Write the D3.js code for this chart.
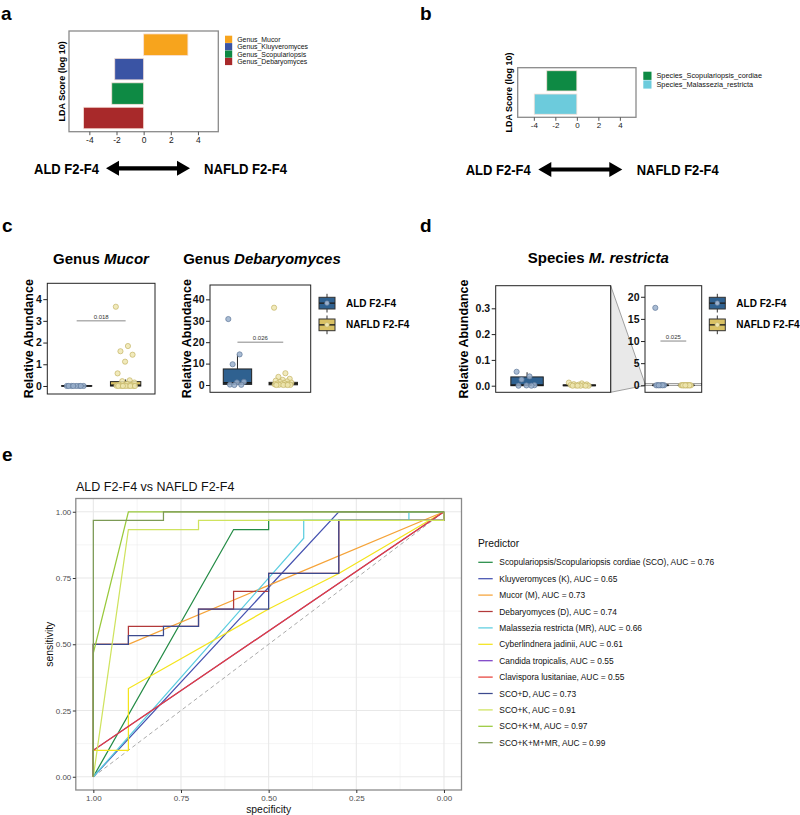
<!DOCTYPE html>
<html><head><meta charset="utf-8">
<script src="https://cdn.jsdelivr.net/npm/d3@7"></script>
<style>
body{margin:0;background:#fff}
svg{display:block}
text{font-family:"Liberation Sans",Arial,Helvetica,sans-serif}
</style>
</head><body>
<svg id="fig" width="800" height="815"></svg>
<script>
// ---------------- DATA ----------------
// Panel a: LDA scores (genus)
const genusNames = ["Genus_Mucor","Genus_Kluyveromyces","Genus_Scopulariopsis","Genus_Debaryomyces"];
const genusLDA = [3.26, -2.13, -2.35, -4.43];
// Panel b: LDA scores (species)
const speciesNames = ["Species_Scopulariopsis_cordiae","Species_Malassezia_restricta"];
const speciesLDA = [-2.8, -3.96];
const ldaTicks = [-4,-2,0,2,4];
const ldaDomain = [-5.5, 5.5];

// Panels c/d: relative abundance (points) and box stats [lowWhisker, q1, median, q3, highWhisker]
const groups = ["ALD F2-F4","NAFLD F2-F4"];
const mucorALD = [0,0,0,0,0,0,0,0];
const mucorNAFLD = [3.65,1.84,1.6,1.44,1.12,0.58,0.26,0.22,0.16,0.1,0.06,0.04,0.02,0.01,0,0,0,0,0,0,0,0];
const mucorStatsALD = [0,0,0,0.005,0.01];
const mucorStatsNAFLD = [0,0,0.03,0.2,0.3];
const mucorTicks = [0,1,2,3,4];
const mucorP = "0.018";

const debALD = [30.8,14.3,9.7,1.5,1.2,0.2,0.1,0];
const debNAFLD = [36.1,5.5,3.8,2.9,2.4,2.0,1.7,1.4,1.1,0.9,0.7,0.5,0.4,0.3,0.2,0.1,0.05,0,0,0];
const debStatsALD = [0,0.3,1.0,7.5,14.3];
const debStatsNAFLD = [0,0.1,0.6,1.25,2.5];
const debTicks = [0,10,20,30,40];
const debP = "0.026";

const mresALD = [17.5,0.054,0.036,0.024,0.002,0.001,0,0];
const mresNAFLD = [0.012,0.009,0.006,0.005,0.004,0.003,0.002,0.001,0,0,0,0,0];
const mresStatsALD = [0,0,0.002,0.034,0.052];
const mresStatsNAFLD = [0,0,0.001,0.003,0.006];
const mresZoomTicks = [0,0.1,0.2,0.3];
const mresFullTicks = [0,5,10,15,20];
const mresP = "0.025";

// Panel e: ROC curves, [specificity, sensitivity]
const rocSCO   = [[1,0],[0.6,0.933],[0.5,0.933],[0.5,0.967],[0,0.967],[0,1]];
const rocK     = [[1,0],[0.3,1],[0,1]];
const rocM     = [[1,0],[1,0.5],[0.9,0.5],[0,1]];
const rocD     = [[1,0],[1,0.5],[0.9,0.5],[0.9,0.567],[0.7,0.567],[0.7,0.633],[0.6,0.633],[0.6,0.7],[0.5,0.7],[0.5,0.767],[0.3,0.767],[0.3,0.967],[0,0.967],[0,1]];
const rocMR    = [[1,0],[0.4,0.9],[0.4,0.967],[0.1,0.967],[0.1,1],[0,1]];
const rocCJ    = [[1,0],[1,0.1],[0.9,0.1],[0.9,0.333],[0.5,0.633],[0.3,0.767],[0,1]];
const rocCT    = [[1,0],[1,0.1],[0,1]];
const rocCL    = [[1,0],[1,0.1],[0,1]];
const rocSCOD  = [[1,0],[1,0.5],[0.9,0.5],[0.9,0.533],[0.8,0.533],[0.8,0.567],[0.7,0.567],[0.7,0.633],[0.5,0.633],[0.5,0.767],[0.3,0.767],[0.3,0.967],[0,0.967],[0,1]];
const rocSCOK  = [[1,0],[0.9,0.933],[0.7,0.933],[0.7,0.967],[0,0.967],[0,1]];
const rocSCOKM = [[1,0],[1,0.467],[0.9,1],[0,1]];
const rocSCOKMMR = [[1,0],[1,0.967],[0.8,0.967],[0.8,1],[0,1]];
const rocLabels = [
  "Scopulariopsis/Scopulariopsis cordiae (SCO), AUC = 0.76",
  "Kluyveromyces (K), AUC = 0.65",
  "Mucor (M), AUC = 0.73",
  "Debaryomyces (D), AUC = 0.74",
  "Malassezia restricta (MR), AUC = 0.66",
  "Cyberlindnera jadinii, AUC = 0.61",
  "Candida tropicalis, AUC = 0.55",
  "Clavispora lusitaniae, AUC = 0.55",
  "SCO+D, AUC = 0.73",
  "SCO+K, AUC = 0.91",
  "SCO+K+M, AUC = 0.97",
  "SCO+K+M+MR, AUC = 0.99"
];
const rocTicks = [1,0.75,0.5,0.25,0];
const rocMinor = [0.125,0.375,0.625,0.875];

// ---------------- STYLE ----------------
const genusColors = ["#f7a41d","#3a54a4","#0e8a44","#a8292a"];
const speciesColors = ["#0e8a44","#6ccbdc"];
const rocSeries = [rocSCO,rocK,rocM,rocD,rocMR,rocCJ,rocCT,rocCL,rocSCOD,rocSCOK,rocSCOKM,rocSCOKMMR];
const rocColors = ["#238b45","#4552b0","#f5a338","#b2393a","#5ccde0","#f4e41c","#7b3fc6","#e6403a","#3c4a8e","#cfe35e","#99c93b","#7c9a55"];
const ALDfill="#2f6190", NAFfill="#d9c164";
const ALDpt="#9ab0cc", ALDptS="#60789a", NAFpt="#efe6b0", NAFptS="#c4b466";

const svg = d3.select("#fig");

// ---------------- helpers ----------------
function panelLabel(t,x,y){
  svg.append("text").attr("x",x).attr("y",y).text(t)
    .attr("font-size",19).attr("font-weight","bold");
}
function dblArrow(x1,x2,y){
  const hl=13, hh=7.5, st=2.1;
  const p=d3.path();
  p.moveTo(x1,y); p.lineTo(x1+hl,y-hh); p.lineTo(x1+hl,y-st); p.lineTo(x2-hl,y-st);
  p.lineTo(x2-hl,y-hh); p.lineTo(x2,y); p.lineTo(x2-hl,y+hh); p.lineTo(x2-hl,y+st);
  p.lineTo(x1+hl,y+st); p.lineTo(x1+hl,y+hh); p.closePath();
  svg.append("path").attr("d",p.toString()).attr("fill","#000");
}
function boldLabel(t,x,y,len){
  svg.append("text").attr("x",x).attr("y",y).text(t).attr("font-size",14.5)
    .attr("font-weight","bold").attr("textLength",len).attr("lengthAdjust","spacingAndGlyphs");
}

function ldaPanel(c){
  const g=svg.append("g");
  const x=d3.scaleLinear().domain(ldaDomain).range([c.x0,c.x1]);
  const y=d3.scaleBand().domain(c.names).range([c.y0,c.y1]).paddingInner(c.pad).paddingOuter(c.pad);
  g.selectAll("rect.bar").data(c.names).join("rect").attr("class","bar")
    .attr("x",(d,i)=>x(Math.min(0,c.scores[i])))
    .attr("width",(d,i)=>Math.abs(x(c.scores[i])-x(0)))
    .attr("y",d=>y(d)).attr("height",y.bandwidth())
    .attr("fill",(d,i)=>c.colors[i]).attr("stroke","#f6e0d8").attr("stroke-width",0.8);
  g.append("rect").attr("x",c.x0).attr("y",c.y0).attr("width",c.x1-c.x0).attr("height",c.y1-c.y0)
    .attr("fill","none").attr("stroke","#8a8a8a").attr("stroke-width",1.3);
  const ax=g.append("g").attr("transform",`translate(0,${c.y1})`)
    .call(d3.axisBottom(x).tickValues(ldaTicks).tickSize(3.5).tickPadding(1.5).tickFormat(d=>d));
  ax.select(".domain").remove();
  ax.selectAll("line").attr("stroke","#555");
  ax.selectAll("text").attr("font-size",c.tickFont).attr("fill","#222").attr("font-family",null);
  g.append("text").attr("transform",`translate(${c.ytX},${(c.y0+c.y1)/2}) rotate(-90)`)
    .attr("text-anchor","middle").attr("font-size",9).attr("font-weight","bold").text("LDA Score (log 10)");
  // legend
  c.names.forEach((n,i)=>{
    const cy=c.legY+i*c.legRow;
    g.append("rect").attr("x",c.legX).attr("y",cy-c.sq/2).attr("width",c.sq).attr("height",c.sq).attr("fill",c.colors[i]);
    g.append("text").attr("x",c.legX+c.sq+5).attr("y",cy+2.4).attr("font-size",c.legFont).attr("fill","#111").text(n);
  });
}

function spread(i){ return (((i*0.618034)%1)-0.5)*0.4; }

function boxPanel(c){
  const g=svg.append("g");
  const x=d3.scaleLinear().domain([0.4,2.6]).range([c.x0,c.x1]);
  const y=d3.scaleLinear().domain(c.domain).range([c.y1,c.y0]);
  const bw=0.62;
  const sets=[{v:c.ALD,s:c.sALD,f:ALDfill,pf:ALDpt,ps:ALDptS},{v:c.NAF,s:c.sNAF,f:NAFfill,pf:NAFpt,ps:NAFptS}];
  sets.forEach((d,gi)=>{
    const cx=x(gi+1), hw=(x(gi+1+bw/2)-x(gi+1));
    g.append("line").attr("x1",cx).attr("x2",cx).attr("y1",y(d.s[3])).attr("y2",y(d.s[4])).attr("stroke","#222").attr("stroke-width",1);
    g.append("line").attr("x1",cx).attr("x2",cx).attr("y1",y(d.s[1])).attr("y2",y(d.s[0])).attr("stroke","#222").attr("stroke-width",1);
    g.append("rect").attr("x",cx-hw).attr("width",2*hw).attr("y",y(d.s[3])).attr("height",Math.max(0.01,y(d.s[1])-y(d.s[3])))
      .attr("fill",d.f).attr("stroke","#222").attr("stroke-width",1);
    g.append("line").attr("x1",cx-hw).attr("x2",cx+hw).attr("y1",y(d.s[2])).attr("y2",y(d.s[2])).attr("stroke","#1a1a1a").attr("stroke-width",1.8);
    g.selectAll(null).data(d.v.filter(v=>v<=c.domain[1])).join("circle")
      .attr("cx",(v,i)=>x(gi+1+spread(i))).attr("cy",v=>y(v)).attr("r",2.6)
      .attr("fill",d.pf).attr("fill-opacity",0.85).attr("stroke",d.ps).attr("stroke-width",0.7);
  });
  g.append("rect").attr("x",c.x0).attr("y",c.y0).attr("width",c.x1-c.x0).attr("height",c.y1-c.y0)
    .attr("fill","none").attr("stroke","#222").attr("stroke-width",1);
  const ax=g.append("g").attr("transform",`translate(${c.x0},0)`)
    .call(d3.axisLeft(y).tickValues(c.ticks).tickSize(4).tickPadding(1.5).tickFormat(c.fmt||(d=>d)));
  ax.select(".domain").remove();
  ax.selectAll("line").attr("stroke","#222");
  ax.selectAll("text").attr("font-size",10.5).attr("font-weight","bold").attr("fill","#111").attr("font-family",null);
  if(c.ytX!==undefined){
    g.append("text").attr("transform",`translate(${c.ytX},${(c.y0+c.y1)/2}) rotate(-90)`)
      .attr("text-anchor","middle").attr("font-size",12.5).attr("font-weight","bold").text("Relative Abundance");
  }
  if(c.p){
    const py=y(c.pAt);
    g.append("line").attr("x1",x(1)).attr("x2",x(2)).attr("y1",py).attr("y2",py).attr("stroke","#555").attr("stroke-width",0.7);
    g.append("text").attr("x",(x(1)+x(2))/2).attr("y",py-2).attr("text-anchor","middle").attr("font-size",6).attr("fill","#333").text(c.p);
  }
  return {x,y};
}

function boxLegend(lx,ly){
  const g=svg.append("g");
  const w=16,h=11.7;
  [[ALDfill,ALDpt,ALDptS],[NAFfill,NAFpt,NAFptS]].forEach((s,i)=>{
    const top=ly+i*21.7, cx=lx+w/2;
    g.append("line").attr("x1",cx).attr("x2",cx).attr("y1",top-3.5).attr("y2",top+h+3.5).attr("stroke","#333");
    g.append("rect").attr("x",lx).attr("y",top).attr("width",w).attr("height",h).attr("fill",s[0]).attr("stroke","#333");
    g.append("line").attr("x1",lx).attr("x2",lx+w).attr("y1",top+h/2).attr("y2",top+h/2).attr("stroke","#222").attr("stroke-width",1.4);
    g.append("circle").attr("cx",cx).attr("cy",top+h/2).attr("r",2.3).attr("fill",s[1]).attr("stroke",s[2]).attr("stroke-width",0.6);
    g.append("text").attr("x",lx+w+11).attr("y",top+h/2+3.6).attr("font-size",10).attr("font-weight","bold").text(groups[i]);
  });
}

function titleMixed(cx,y,plain,ital){
  const t=svg.append("text").attr("x",cx).attr("y",y).attr("text-anchor","middle").attr("font-size",15).attr("font-weight","bold");
  t.append("tspan").text(plain);
  t.append("tspan").attr("font-style","italic").text(ital);
}

// ---------------- Panel a ----------------
panelLabel("a",1,19.5);
ldaPanel({names:genusNames,scores:genusLDA,colors:genusColors,x0:69,x1:218.3,y0:31,y1:131.7,pad:0.12,
  tickFont:8.5,ytX:64.5,legX:225,legY:39.3,legRow:7.4,sq:7.2,legFont:6.9});
boldLabel("ALD F2-F4",34,174,65);
dblArrow(106,190,168.3);
boldLabel("NAFLD F2-F4",204,174,83);

// ---------------- Panel b ----------------
panelLabel("b",420,19.5);
ldaPanel({names:speciesNames,scores:speciesLDA,colors:speciesColors,x0:517.7,x1:636,y0:67.7,y1:117.3,pad:0.13,
  tickFont:8,ytX:512.3,legX:643.3,legY:75.8,legRow:8.7,sq:8.2,legFont:7.3});
boldLabel("ALD F2-F4",465.7,175,65);
dblArrow(538.3,622.3,169.5);
boldLabel("NAFLD F2-F4",636.7,175,82);

// ---------------- Panel c ----------------
panelLabel("c",2,231.7);
titleMixed(101,264,"Genus ","Mucor");
boxPanel({x0:47.3,x1:155,y0:283.3,y1:394,domain:[-0.37,4.73],ticks:mucorTicks,ALD:mucorALD,NAF:mucorNAFLD,
  sALD:mucorStatsALD,sNAF:mucorStatsNAFLD,ytX:33,p:mucorP,pAt:3.0});
titleMixed(262,264,"Genus ","Debaryomyces");
boxPanel({x0:210,x1:310.7,y0:285,y1:392.3,domain:[-3.4,46.7],ticks:debTicks,ALD:debALD,NAF:debNAFLD,
  sALD:debStatsALD,sNAF:debStatsNAFLD,ytX:191,p:debP,pAt:20});
boxLegend(319,297.3);

// ---------------- Panel d ----------------
panelLabel("d",420,231.7);
titleMixed(598.3,263,"Species ","M. restricta");
// zoom indicator (behind)
const dZoomG = svg.append("g");
const dLeft = {x0:495.7,x1:610.7,y0:285.7,y1:392.3,domain:[-0.0256,0.3876]};
const dRight= {x0:645,x1:701.7,y0:285.7,y1:392.3,domain:[-1.58,22.5]};
const yR = d3.scaleLinear().domain(dRight.domain).range([dRight.y1,dRight.y0]);
dZoomG.append("path").attr("d",`M${dLeft.x1},${dLeft.y0}L${dRight.x0},${yR(dLeft.domain[1])}L${dRight.x0},${yR(dLeft.domain[0])}L${dLeft.x1},${dLeft.y1}Z`)
  .attr("fill","#e9e9e9").attr("stroke","#666").attr("stroke-width",0.6);
dZoomG.append("rect").attr("x",dRight.x0).attr("y",yR(dLeft.domain[1])).attr("width",dRight.x1-dRight.x0)
  .attr("height",yR(dLeft.domain[0])-yR(dLeft.domain[1])).attr("fill","#e9e9e9").attr("stroke","#666").attr("stroke-width",0.6);
boxPanel(Object.assign({},dLeft,{ticks:mresZoomTicks,fmt:d3.format(".1f"),ALD:mresALD,NAF:mresNAFLD,
  sALD:mresStatsALD,sNAF:mresStatsNAFLD,ytX:468}));
boxPanel(Object.assign({},dRight,{ticks:mresFullTicks,ALD:mresALD,NAF:mresNAFLD,
  sALD:mresStatsALD,sNAF:mresStatsNAFLD,p:mresP,pAt:10}));
boxLegend(709.3,297.3);

// ---------------- Panel e ----------------
panelLabel("e",2,461);
const eg=svg.append("g");
const xr=d3.scaleLinear().domain([1.05,-0.05]).range([75.8,461.5]);
const yr=d3.scaleLinear().domain([-0.05,1.05]).range([790,498.5]);
eg.append("text").attr("x",76).attr("y",490.7).attr("font-size",12.5).attr("fill","#111").text("ALD F2-F4 vs NAFLD F2-F4");
// grid
rocMinor.forEach(v=>{
  eg.append("line").attr("x1",xr(v)).attr("x2",xr(v)).attr("y1",yr(1.05)).attr("y2",yr(-0.05)).attr("stroke","#efefef").attr("stroke-width",0.6);
  eg.append("line").attr("y1",yr(v)).attr("y2",yr(v)).attr("x1",xr(1.05)).attr("x2",xr(-0.05)).attr("stroke","#efefef").attr("stroke-width",0.6);
});
rocTicks.forEach(v=>{
  eg.append("line").attr("x1",xr(v)).attr("x2",xr(v)).attr("y1",yr(1.05)).attr("y2",yr(-0.05)).attr("stroke","#e8e8e8").attr("stroke-width",1.1);
  eg.append("line").attr("y1",yr(v)).attr("y2",yr(v)).attr("x1",xr(1.05)).attr("x2",xr(-0.05)).attr("stroke","#e8e8e8").attr("stroke-width",1.1);
});
// diagonal
eg.append("line").attr("x1",xr(1)).attr("y1",yr(0)).attr("x2",xr(0)).attr("y2",yr(1))
  .attr("stroke","#aaaaaa").attr("stroke-width",1).attr("stroke-dasharray","4,3");
const lineGen=d3.line().x(d=>xr(d[0])).y(d=>yr(d[1]));
rocSeries.forEach((s,i)=>{
  eg.append("path").attr("d",lineGen(s)).attr("fill","none").attr("stroke",rocColors[i]).attr("stroke-width",1.25);
});
eg.append("rect").attr("x",75.8).attr("y",498.5).attr("width",461.5-75.8).attr("height",790-498.5)
  .attr("fill","none").attr("stroke","#8a8a8a").attr("stroke-width",1.3);
const exA=eg.append("g").attr("transform","translate(0,790)").call(d3.axisBottom(xr).tickValues(rocTicks).tickSize(3).tickPadding(2.3).tickFormat(d3.format(".2f")));
const eyA=eg.append("g").attr("transform","translate(75.8,0)").call(d3.axisLeft(yr).tickValues(rocTicks).tickSize(3).tickPadding(1.5).tickFormat(d3.format(".2f")));
[exA,eyA].forEach(a=>{a.select(".domain").remove();a.selectAll("line").attr("stroke","#333");
  a.selectAll("text").attr("font-size",8).attr("fill","#4d4d4d").attr("font-family",null);});
eg.append("text").attr("x",(75.8+461.5)/2).attr("y",813).attr("text-anchor","middle").attr("font-size",10.4).attr("fill","#111").text("specificity");
eg.append("text").attr("transform",`translate(53,${(498.5+790)/2}) rotate(-90)`).attr("text-anchor","middle").attr("font-size",10.4).attr("fill","#111").text("sensitivity");
// legend
eg.append("text").attr("x",478).attr("y",547).attr("font-size",10.3).attr("fill","#111").text("Predictor");
rocLabels.forEach((l,i)=>{
  const cy=562.3+i*16.4;
  eg.append("line").attr("x1",478.3).attr("x2",492.7).attr("y1",cy).attr("y2",cy).attr("stroke",rocColors[i]).attr("stroke-width",1.25);
  eg.append("text").attr("x",499.3).attr("y",cy+3).attr("font-size",8.4).attr("fill","#111").text(l);
});
</script>
</body></html>
